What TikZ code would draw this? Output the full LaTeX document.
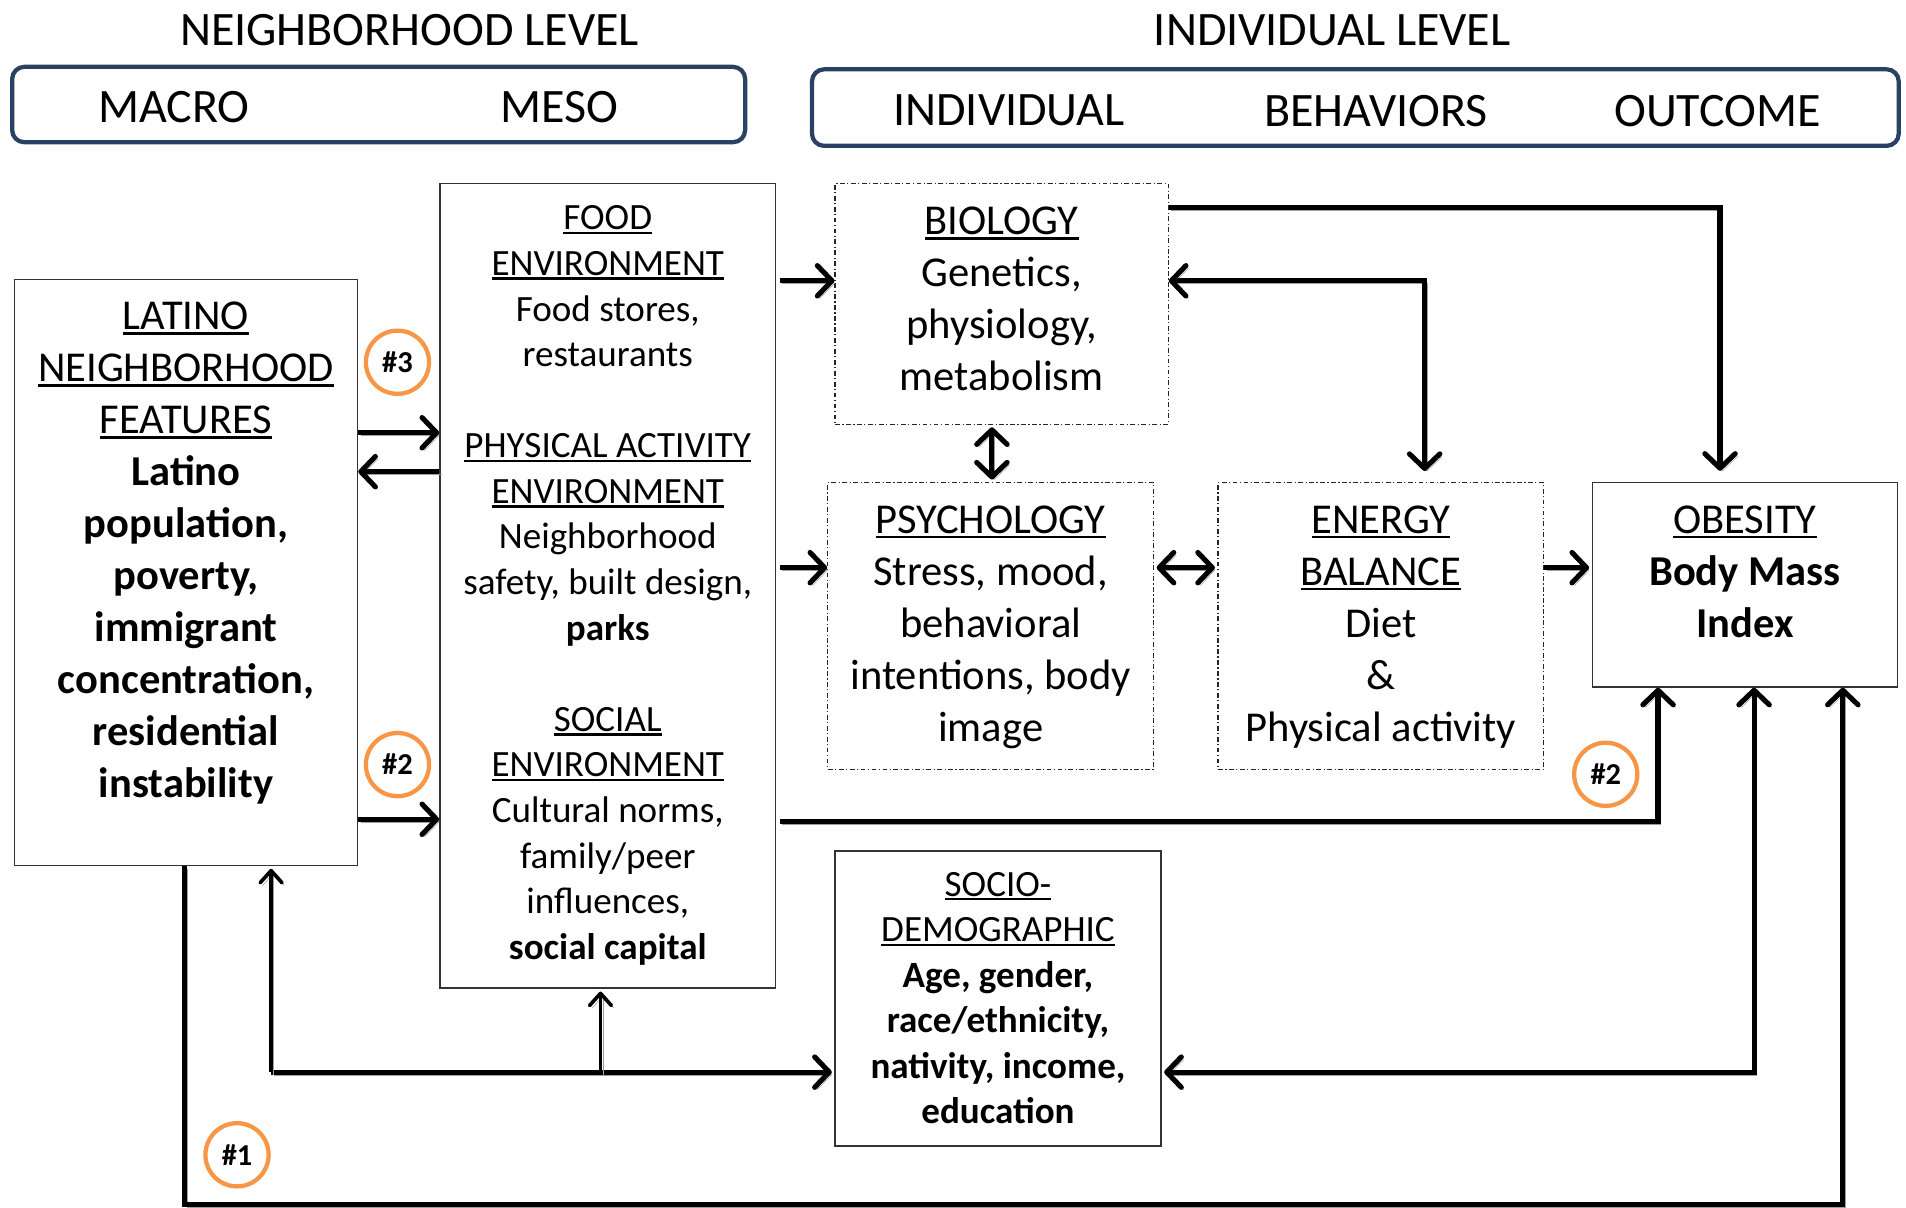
\documentclass[tikz,border=0pt]{standalone}
\usepackage{fontspec}
\setmainfont{Carlito}
\usetikzlibrary{arrows.meta}
\definecolor{navy}{RGB}{41,65,99}
\definecolor{badgeorange}{RGB}{247,150,70}
\newcommand\uln[1]{\setbox0=\hbox{#1}\leavevmode\rlap{\rule[-0.12em]{\wd0}{0.065em}}\box0}
\begin{document}
\begin{tikzpicture}[x=1pt,y=-1pt,
  box/.style={draw=black!80, line width=1.4pt, fill=white, inner sep=0pt},
  dbox/.style={draw=black!85, line width=1pt, dash pattern=on 4pt off 2pt on 1pt off 2pt, inner sep=0pt},
  hdrbox/.style={draw=navy, line width=3.5pt, rounded corners=10pt, inner sep=0pt},
  hdr/.style={font=\fontsize{39.5}{48}\selectfont, inner sep=0pt},
  txtL/.style={font=\fontsize{35}{42.8}\selectfont, align=center, inner sep=0pt, anchor=north},
  txtM/.style={font=\fontsize{30.5}{37.5}\selectfont, align=center, inner sep=0pt, anchor=north},
  badge/.style={circle, draw=badgeorange, line width=3.5pt, minimum size=52pt, inner sep=0pt, font=\bfseries\fontsize{25}{27}\selectfont},
  shd/.style={preaction={draw=black!38, transform canvas={xshift=2pt,yshift=-2.2pt}}},
  tip/.tip={Straight Barb[length=12pt,width=25pt,round]},
  tipthin/.tip={Straight Barb[length=10pt,width=18pt,round]},
  arr/.style={line width=4.2pt, -tip, shd},
  dblarr/.style={line width=4.2pt, tip-tip, shd},
  arrthin/.style={line width=3pt, -tipthin, shd}
]
\fill[white] (0,0) rectangle (1568,993);
\useasboundingbox (0,0) rectangle (1568,993);

% headers
\node[hdr] (nlevel) at (337,25) {NEIGHBORHOOD LEVEL};
\node[hdr] (ilevel) at (1096,25) {INDIVIDUAL LEVEL};
\node[hdrbox, minimum width=603pt, minimum height=62pt] (nbox) at (311.5,86) {};
\node[hdrbox, minimum width=894pt, minimum height=63pt] (ibox) at (1115,88.5) {};
\node[hdr] (macro) at (143,88) {MACRO};
\node[hdr] (mesoh) at (460,88) {MESO};
\node[hdr] (indh) at (830,91) {INDIVIDUAL};
\node[hdr] (behh) at (1132,91) {BEHAVIORS};
\node[hdr] (outh) at (1413,91) {OUTCOME};

% boxes
\node[box, minimum width=282pt, minimum height=482pt] (latino) at (153,471) {};
\node[box, minimum width=276pt, minimum height=662pt] (meso) at (500,482) {};
\node[dbox, minimum width=274pt, minimum height=198pt] (bio) at (824,250) {};
\node[dbox, minimum width=268pt, minimum height=236pt] (psy) at (815,515) {};
\node[dbox, minimum width=268pt, minimum height=236pt] (ener) at (1136,515) {};
\node[box, minimum width=251pt, minimum height=168pt] (obes) at (1435.5,481) {};
\node[box, minimum width=268pt, minimum height=243pt] (socio) at (821,821.5) {};

% texts
\node[txtL] (latinot) at (153,243) {\rule{0pt}{0.8em}\uln{LATINO}\\ \uln{NEIGHBORHOOD}\\ \uln{FEATURES}\\
  \textbf{Latino}\\ \textbf{population,}\\ \textbf{poverty,}\\ \textbf{immigrant}\\ \textbf{concentration,}\\ \textbf{residential}\\ \textbf{instability}};
\node[txtM] (mesot) at (500,164.5) {\rule{0pt}{0.8em}\uln{FOOD}\\ \uln{ENVIRONMENT}\\ Food stores,\\ restaurants\\ ~\\
  \uln{PHYSICAL ACTIVITY}\\ \uln{ENVIRONMENT}\\ Neighborhood\\ safety, built design,\\ \textbf{parks}\\ ~\\
  \uln{SOCIAL}\\ \uln{ENVIRONMENT}\\ Cultural norms,\\ family/peer\\ influences,\\ \textbf{social capital}};
\node[txtL] (biot) at (824,165) {\rule{0pt}{0.8em}\uln{BIOLOGY}\\ Genetics,\\ physiology,\\ metabolism};
\node[txtL] (psyt) at (815,410.5) {\rule{0pt}{0.8em}\uln{PSYCHOLOGY}\\ Stress, mood,\\ behavioral\\ intentions, body\\ image};
\node[txtL] (enert) at (1136,410.5) {\rule{0pt}{0.8em}\uln{ENERGY}\\ \uln{BALANCE}\\ Diet\\ \&\\ Physical activity};
\node[txtL] (obest) at (1435.5,410.5) {\rule{0pt}{0.8em}\uln{OBESITY}\\ \textbf{Body Mass}\\ \textbf{Index}};
\node[txtM] (sociot) at (821,712.5) {\rule{0pt}{0.8em}\uln{SOCIO-}\\ \uln{DEMOGRAPHIC}\\ \textbf{Age, gender,}\\ \textbf{race/ethnicity,}\\ \textbf{nativity, income,}\\ \textbf{education}};

% badges
\node[badge] (b3) at (327,298) {\#3};
\node[badge] (b2a) at (327,629) {\#2};
\node[badge] (b2b) at (1321,637) {\#2};
\node[badge] (b1) at (195,950) {\#1};

% connectors
\draw[arr] (latino.east |- 0,356) -- (meso.west |- 0,356);
\draw[arr] (meso.west |- 0,388) -- (latino.east |- 0,388);
\draw[arr] (latino.east |- 0,674) -- (meso.west |- 0,674);
\draw[arr, shorten <=3pt] (meso.east |- 0,231) -- (bio.west |- 0,231);
\draw[arr, shorten <=3pt] (meso.east |- 0,467) -- (psy.west |- 0,467);
\draw[arr, shorten <=3pt] (meso.east |- 0,676) -| (obes.south -| 1364,0);
\draw[arr, shorten >=9pt] (bio.east |- 0,171) -| (obes.north -| 1415,0);
\draw[dblarr, shorten >=9pt] (bio.east |- 0,231) -| (ener.north -| 1172,0);
\draw[dblarr, shorten <=2pt, shorten >=2pt] (bio.south -| 816,0) -- (psy.north -| 816,0);
\draw[dblarr, shorten <=2pt, shorten >=2pt] (psy.east |- 0,467) -- (ener.west |- 0,467);
\draw[arr, shorten >=2pt] (ener.east |- 0,467) -- (obes.west |- 0,467);

\coordinate (j1) at (223,882);
\coordinate (j2) at (494,882);
\coordinate (c1) at (152,991);
\coordinate (c2) at (1516,991);
\draw[arr, shorten >=2pt] (j1) -- (socio.west |- j1);
\draw[arrthin, shorten >=2pt] (j1) -- (latino.south -| j1);
\draw[arrthin, shorten >=2pt] (j2) -- (meso.south -| j2);
\draw[dblarr, shorten <=2pt] (socio.east |- j1) -| (obes.south -| 1443,0);
\draw[arr] (latino.south -| c1) -- (c1) -- (c2) -- (obes.south -| c2);
\end{tikzpicture}
\end{document}
